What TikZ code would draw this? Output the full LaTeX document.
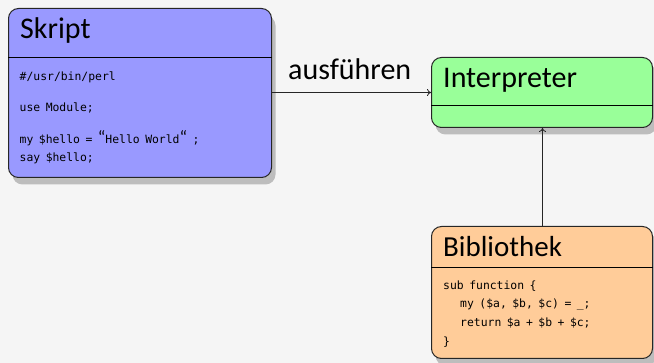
\documentclass[tikz,border=0pt]{standalone}
\usepackage{fontspec}
\setmainfont{Carlito}
\newfontfamily\codefont{DejaVu Sans Mono}[WordSpace=0.8]
\usetikzlibrary{shadows,arrows.meta}

\definecolor{bgcol}{HTML}{F5F5F5}
\definecolor{skriptcol}{HTML}{9999FF}
\definecolor{interpcol}{HTML}{99FF99}
\definecolor{bibcol}{HTML}{FFCC99}
\definecolor{shadowcol}{HTML}{BDBDBD}

\newcommand{\bigquote}{{\rmfamily\fontsize{18}{18}\selectfont “}}

\tikzset{
  classbox/.style={draw=black!85, line width=1pt, rounded corners=10pt,
    inner sep=0pt, anchor=north west,
    drop shadow={shadow xshift=4pt, shadow yshift=-7pt, fill=shadowcol, opacity=1}},
  divider/.style={draw=black, line width=1pt},
  title/.style={anchor=base west, inner sep=0pt, font=\fontsize{30}{30}\selectfont},
  code/.style={anchor=base west, inner sep=0pt, font=\codefont\fontsize{11.4}{13}\selectfont},
  link/.style={draw=black!85, line width=0.8pt, -{To[length=4pt,width=7pt]}},
}

\begin{document}
\begin{tikzpicture}[x=1pt,y=-1pt]
  \fill[bgcol] (0,0) rectangle (654,363);
  \useasboundingbox (0,0) rectangle (654,363);

  % boxes
  \node[classbox, fill=skriptcol, minimum width=263pt, minimum height=169pt] (skript) at (8,8) {};
  \node[classbox, fill=interpcol, minimum width=221pt, minimum height=70pt] (interp) at (431,57) {};
  \node[classbox, fill=bibcol, minimum width=221pt, minimum height=132pt] (bib) at (431,226) {};

  % header separators
  \draw[divider] (skript.west |- 0,58) -- (skript.east |- 0,58);
  \draw[divider] (interp.west |- 0,106) -- (interp.east |- 0,106);
  \draw[divider] (bib.west |- 0,268) -- (bib.east |- 0,268);

  % titles
  \node[title] (tskript) at (20,38.3) {Skript};
  \node[title] (tinterp) at (443,87.3) {Interpreter};
  \node[title, font=\fontsize{29}{29}\selectfont] (tbib) at (443,256.3) {Bibliothek};

  % script body
  \node[code] (s1) at (19.5,80.3) {\#/usr/bin/perl};
  \node[code] (s2) at (19.5,111.3) {use Module;};
  \node[code] (s3) at (19.5,143.5) {my \$hello = \bigquote Hello World\bigquote\ ;};
  \node[code] (s4) at (19.5,162) {say \$hello;};

  % library body
  \node[code] (b1) at (443,289.3) {sub function \{};
  \node[code] (b2) at (460,308) {my (\$a, \$b, \$c) = \_;};
  \node[code] (b3) at (460,327) {return \$a + \$b + \$c;};
  \node[code] (b4) at (443,345.5) {\}};

  % connectors
  \coordinate (runfrom) at (skript.east |- 0,92.5);
  \coordinate (runto) at (interp.west |- 0,92.5);
  \draw[link] (runfrom) -- (runto);
  \node[anchor=base west, inner sep=0pt, font=\fontsize{30}{30}\selectfont] (lrun) at (288,80) {ausführen};
  \coordinate (bibtop) at (bib.north -| 542.5,0);
  \coordinate (interpbot) at (interp.south -| 542.5,0);
  \draw[link] (bibtop) -- (interpbot);
\end{tikzpicture}
\end{document}
